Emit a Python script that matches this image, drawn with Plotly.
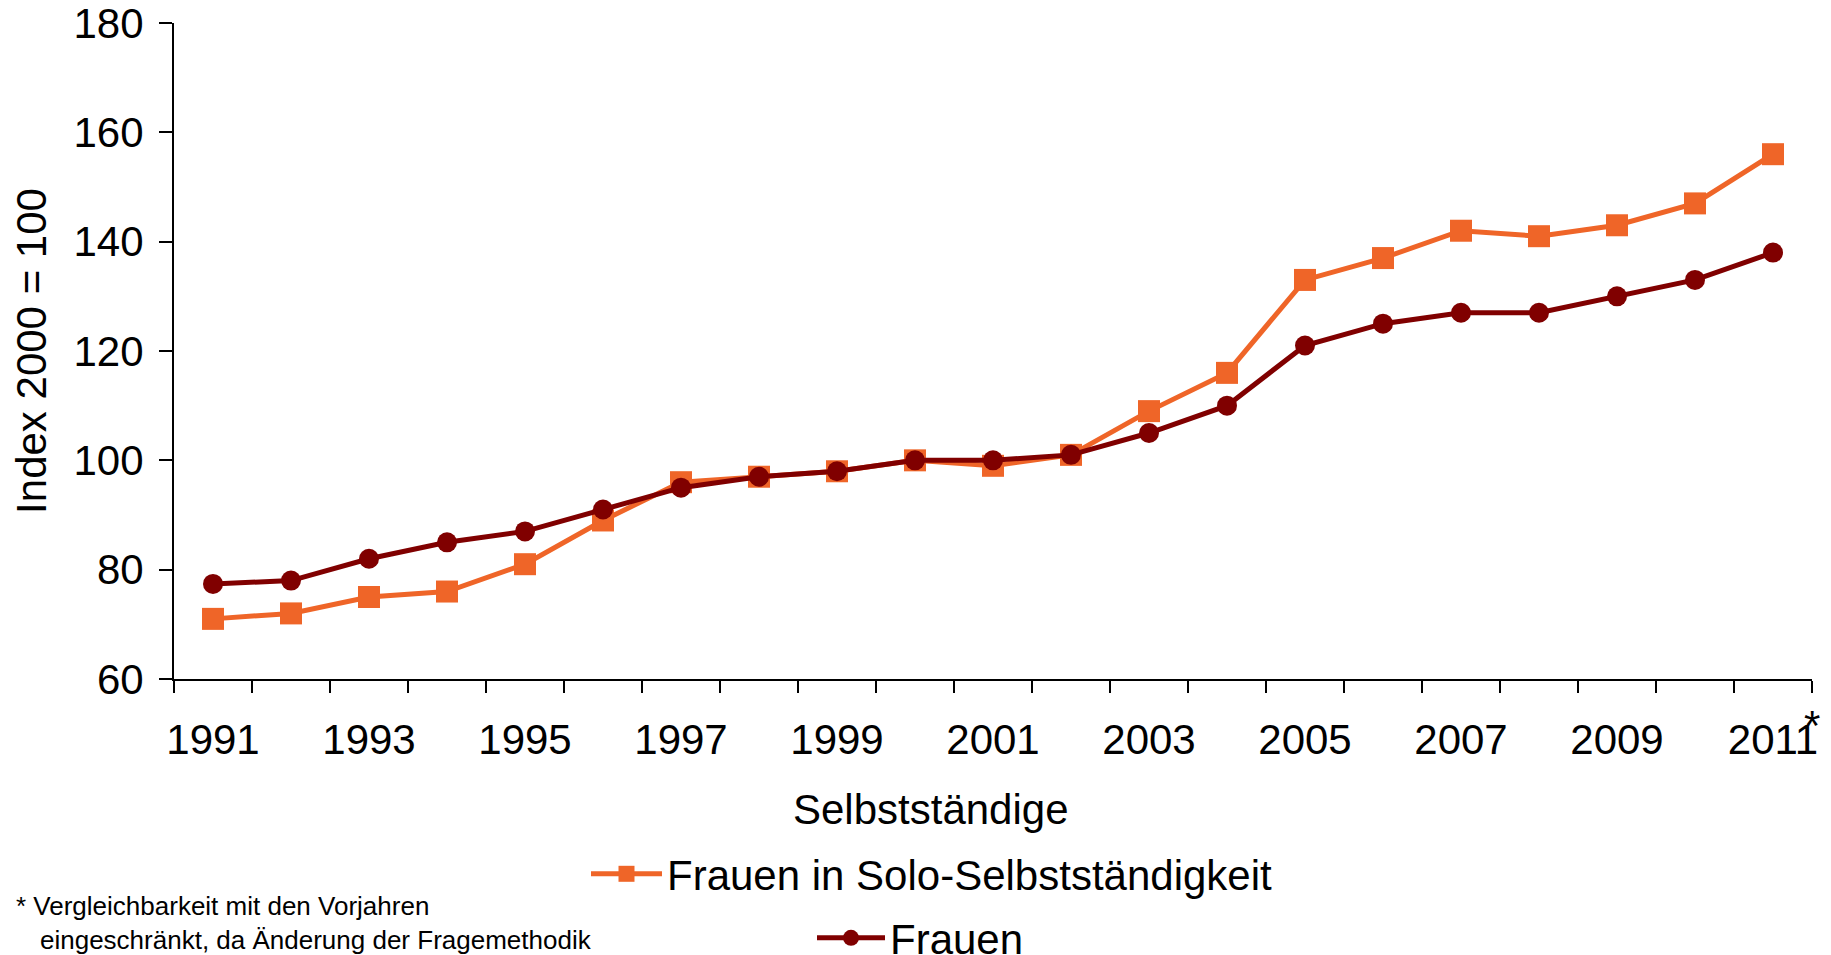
import plotly.graph_objects as go

# data (index 2000 = 100)
YEARS = list(range(1991, 2012))
SOLO = [71, 72, 75, 76, 81, 89, 96, 97, 98, 100, 99, 101,
        109, 116, 133, 137, 142, 141, 143, 147, 156]
FRAUEN = [77.4, 78, 82, 85, 87, 91, 95, 97, 98, 100, 100, 101,
          105, 110, 121, 125, 127, 127, 130, 133, 138]
TICK_YEARS = YEARS[::2]
Y_TICKS = [60, 80, 100, 120, 140, 160, 180]

ORANGE = "#EF6528"
DARKRED = "#800000"
INK = "#000000"
FONT = "Liberation Sans, Arial, sans-serif"

# the page body has an 8px margin, so the figure is 8px smaller and
# screen positions below are converted to figure positions
OFF = 8
W, H = 1831 - OFF, 955 - OFF
L, R, T, B = 174 - OFF, 19, 23 - OFF, 276
PW, PH = W - L - R, H - T - B


def px_x(p):
    return (p - OFF - L) / PW


def px_y(p):
    return (H - B - (p - OFF)) / PH


fig = go.Figure()
fig.add_trace(go.Scatter(
    x=YEARS, y=SOLO, mode="lines+markers", name="Frauen in Solo-Selbstständigkeit",
    line=dict(color=ORANGE, width=5),
    marker=dict(symbol="square", size=22, color=ORANGE),
    legend="legend",
))
fig.add_trace(go.Scatter(
    x=YEARS, y=FRAUEN, mode="lines+markers", name="Frauen",
    line=dict(color=DARKRED, width=5),
    marker=dict(symbol="circle", size=20, color=DARKRED),
    legend="legend2",
))

fig.update_layout(
    width=W, height=H,
    margin=dict(l=L, r=R, t=T, b=B, autoexpand=False),
    paper_bgcolor="white", plot_bgcolor="white",
    font=dict(family=FONT, color=INK, size=42),
    showlegend=True,
    legend=dict(x=px_x(586), y=px_y(874), xanchor="left", yanchor="middle",
                font=dict(size=42), itemwidth=71, bgcolor="rgba(0,0,0,0)"),
    legend2=dict(x=px_x(812), y=px_y(938), xanchor="left", yanchor="middle",
                 font=dict(size=42), itemwidth=68, bgcolor="rgba(0,0,0,0)"),
    xaxis=dict(
        range=[1990.5, 2011.5], tickvals=TICK_YEARS, ticks="",
        showgrid=False, zeroline=False, showline=True, linecolor=INK, linewidth=2,
        tickfont=dict(size=42), ticklabelstandoff=23, automargin=False,
        minor=dict(tickvals=[y - 0.5 for y in YEARS] + [YEARS[-1] + 0.5],
                   ticks="outside", ticklen=12, tickwidth=2, tickcolor=INK,
                   showgrid=False),
    ),
    yaxis=dict(
        range=[60, 180], tickvals=Y_TICKS, ticks="outside", ticklen=13,
        tickwidth=2, tickcolor=INK, showgrid=False, zeroline=False,
        showline=True, linecolor=INK, linewidth=2, tickfont=dict(size=42),
        ticklabelstandoff=7, ticklabeloverflow="allow", automargin=False,
        title=dict(text="Index 2000 = 100", font=dict(size=42), standoff=15),
    ),
    annotations=[
        dict(text="Selbstständige", x=px_x(931), y=px_y(809), xref="paper", yref="paper",
             xanchor="center", yanchor="middle", showarrow=False, font=dict(size=42)),
        dict(text="*", x=1.0, y=px_y(726), xref="paper", yref="paper",
             xanchor="center", yanchor="middle", showarrow=False, font=dict(size=42)),
        dict(text="* Vergleichbarkeit mit den Vorjahren", x=px_x(14), y=px_y(906),
             xref="paper", yref="paper", xanchor="left", yanchor="middle",
             showarrow=False, font=dict(size=26)),
        dict(text="eingeschränkt, da Änderung der Fragemethodik", x=px_x(38), y=px_y(940),
             xref="paper", yref="paper", xanchor="left", yanchor="middle",
             showarrow=False, font=dict(size=26)),
    ],
)

fig.write_html("out.html")
